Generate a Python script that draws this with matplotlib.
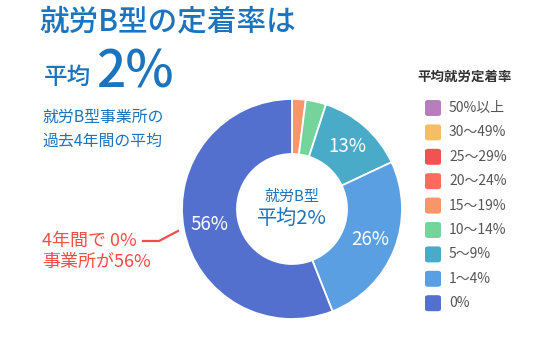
import matplotlib
matplotlib.use("Agg")
import matplotlib.pyplot as plt
from matplotlib.patches import FancyBboxPatch
from matplotlib.lines import Line2D

plt.rcParams['font.family'] = ['Noto Sans CJK JP', 'DejaVu Sans']

# Distribution of facilities by average retention rate (legend order, top to bottom)
categories = ['50%以上', '30〜49%', '25〜29%', '20〜24%', '15〜19%',
              '10〜14%', '5〜9%', '1〜4%', '0%']
shares = [0, 0, 0, 0, 2, 3, 13, 26, 56]
colors = ['#B87DBD', '#F5BE66', '#F25352', '#FF6A5E', '#F7956B',
          '#74D49B', '#4AABC8', '#5A9FE2', '#5470CF']

legend_title = '平均就労定着率'
headline = '就労B型の定着率は'
avg_label = '平均'
avg_value = '2%'
sub_lines = ['就労B型事業所の', '過去4年間の平均']
center_lines = ['就労B型', '平均2%']
note_lines = ['4年間で 0%', '事業所が56%']

W, H = 537, 339
fig = plt.figure(figsize=(W / 100, H / 100), dpi=100)
fig.patch.set_facecolor('white')

BLUE = '#1B74BD'
RED = '#F04E47'


def fx(x):
    return x / W


def fy(y):
    return 1 - y / H


# Donut: drawn clockwise from 12 o'clock, smallest non-zero bands first
cx, cy, r = 292, 209, 110
ax = fig.add_axes([fx(cx - r), fy(cy + r), 2 * r / W, 2 * r / H])
pie_vals = [v for v in shares if v > 0]
pie_cols = [c for v, c in zip(shares, colors) if v > 0]
wedges, _, autotexts = ax.pie(
    pie_vals, colors=pie_cols, startangle=90, counterclock=False,
    radius=1.0, wedgeprops=dict(width=0.5, edgecolor='white', linewidth=1.3),
    autopct=lambda p: f'{p:.0f}%' if p >= 10 else '', pctdistance=0.76,
    textprops=dict(color='white', fontsize=13.5))
ax.set_xlim(-1, 1)
ax.set_ylim(-1, 1)
ax.set_aspect('equal')
ax.axis('off')

# Center caption
fig.text(fx(cx), fy(197), center_lines[0], ha='center', va='center',
         fontsize=10.8, color=BLUE)
fig.text(fx(cx), fy(218), center_lines[1], ha='center', va='center',
         fontsize=14.5, color=BLUE)

# Headline block
fig.text(fx(39), fy(22), headline, ha='left', va='center', fontsize=21.3,
         color=BLUE, fontweight='medium')
fig.text(fx(44), fy(77), avg_label, ha='left', va='center', fontsize=17,
         color=BLUE, fontweight='medium')
fig.text(fx(96), fy(73), avg_value, ha='left', va='center', fontsize=37,
         color=BLUE, fontweight='medium')
fig.text(fx(42), fy(117), sub_lines[0], ha='left', va='center',
         fontsize=11.4, color=BLUE)
fig.text(fx(42), fy(141), sub_lines[1], ha='left', va='center',
         fontsize=11.4, color=BLUE)

# Callout for the 0% share
fig.text(fx(42), fy(241), note_lines[0], ha='left', va='center',
         fontsize=13, color=RED)
fig.text(fx(42), fy(262), note_lines[1], ha='left', va='center',
         fontsize=13, color=RED)
fig.add_artist(Line2D([fx(143), fx(159), fx(178)], [fy(241), fy(241), fy(231)],
                      color=RED, linewidth=1.6, transform=fig.transFigure))

# Legend
fig.text(fx(417), fy(77), legend_title, ha='left', va='center',
         fontsize=9.7, color='#333333', fontweight='bold')
y0, step = 108, 24.4
for i, (lab, col) in enumerate(zip(categories, colors)):
    y = y0 + i * step
    box = FancyBboxPatch((fx(425), fy(y + 8)), fx(16), 16 / H,
                         boxstyle='round,pad=0,rounding_size=0.006',
                         transform=fig.transFigure, facecolor=col,
                         edgecolor='none')
    fig.add_artist(box)
    fig.text(fx(449), fy(y), lab, ha='left', va='center', fontsize=10,
             color='#555555')

fig.savefig('out.png', dpi=100, facecolor='white')
